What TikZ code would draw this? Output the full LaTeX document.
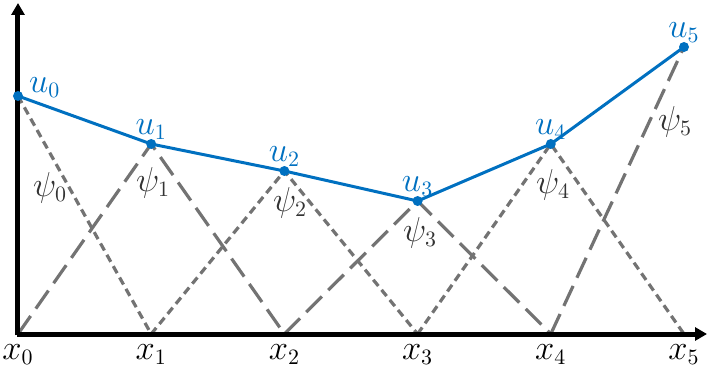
\documentclass[tikz,border=0pt]{standalone}
\usepackage{amsmath}
\usetikzlibrary{arrows.meta, positioning}

\definecolor{nodeblue}{HTML}{0070C0}
\definecolor{hatgray}{HTML}{737373}

\begin{document}
\begin{tikzpicture}[x=0.5pt, y=0.5pt, >=Stealth, font=\fontsize{16}{18}\selectfont]

    % ==========================================
    % STYLES
    % ==========================================
    \tikzset{
        axisline/.style={line width=2.5pt, -{Triangle[length=6pt, width=6.5pt]}},
        hatlong/.style={hatgray, line width=1.6pt, dash pattern=on 11pt off 4.5pt},
        hatshort/.style={hatgray, line width=1.6pt, dash pattern=on 4pt off 2.5pt},
        solution/.style={nodeblue, line width=1.5pt, line join=round},
        dof/.style={circle, fill=nodeblue, inner sep=0pt, minimum size=5pt},
        ulabel/.style={text=nodeblue, anchor=base, yshift=5pt},
        psilabel/.style={text=black!80},
    }

    \useasboundingbox (-18,-42) rectangle (689,334);

    % ==========================================
    % GRID POINTS AND NODAL VALUES
    % ==========================================
    \coordinate (x0) at (0,0);
    \coordinate (x1) at (133.2,0);
    \coordinate (x2) at (266.4,0);
    \coordinate (x3) at (399.6,0);
    \coordinate (x4) at (532.8,0);
    \coordinate (x5) at (666,0);

    \coordinate (u0) at (0,238);
    \coordinate (u1) at (133.2,190);
    \coordinate (u2) at (266.4,163);
    \coordinate (u3) at (399.6,133);
    \coordinate (u4) at (532.8,190);
    \coordinate (u5) at (666,287);

    % ==========================================
    % HAT FUNCTIONS (even: short dash, odd: long dash)
    % ==========================================
    \draw[hatshort] (u0) -- (x1);
    \draw[hatlong]  (x0) -- (u1) -- (x2);
    \draw[hatshort] (x1) -- (u2) -- (x3);
    \draw[hatlong]  (x2) -- (u3) -- (x4);
    \draw[hatshort] (x3) -- (u4) -- (x5);
    \draw[hatlong]  (x4) -- (u5);

    \node[psilabel] (psi0) at (32,146)  {$\psi_0$};
    \node[psilabel] (psi1) at (135,151) {$\psi_1$};
    \node[psilabel] (psi2) at (272,131) {$\psi_2$};
    \node[psilabel] (psi3) at (402,101) {$\psi_3$};
    \node[psilabel] (psi4) at (535,149) {$\psi_4$};
    \node[psilabel] (psi5) at (657,212) {$\psi_5$};

    % ==========================================
    % AXES
    % ==========================================
    \coordinate (ytop) at (0,331);
    \coordinate (xend) at (689,0);
    \draw[axisline] (-1.25,0) -- (xend);
    \draw[axisline] (0,-1.25) -- (ytop);

    \foreach \i in {0,...,5}
        \node[anchor=base] (lx\i) at ([yshift=-12.5pt]x\i) {$x_\i$};

    % ==========================================
    % PIECEWISE LINEAR INTERPOLANT
    % ==========================================
    \draw[solution] (u0) -- (u1) -- (u2) -- (u3) -- (u4) -- (u5);

    \foreach \i in {0,...,5}
        \node[dof] (p\i) at (u\i) {};

    \node[text=nodeblue, anchor=base west] (lu0) at (4,242) {$u_0$};
    \foreach \i in {1,...,5}
        \node[ulabel] (lu\i) at (u\i) {$u_\i$};

\end{tikzpicture}
\end{document}
